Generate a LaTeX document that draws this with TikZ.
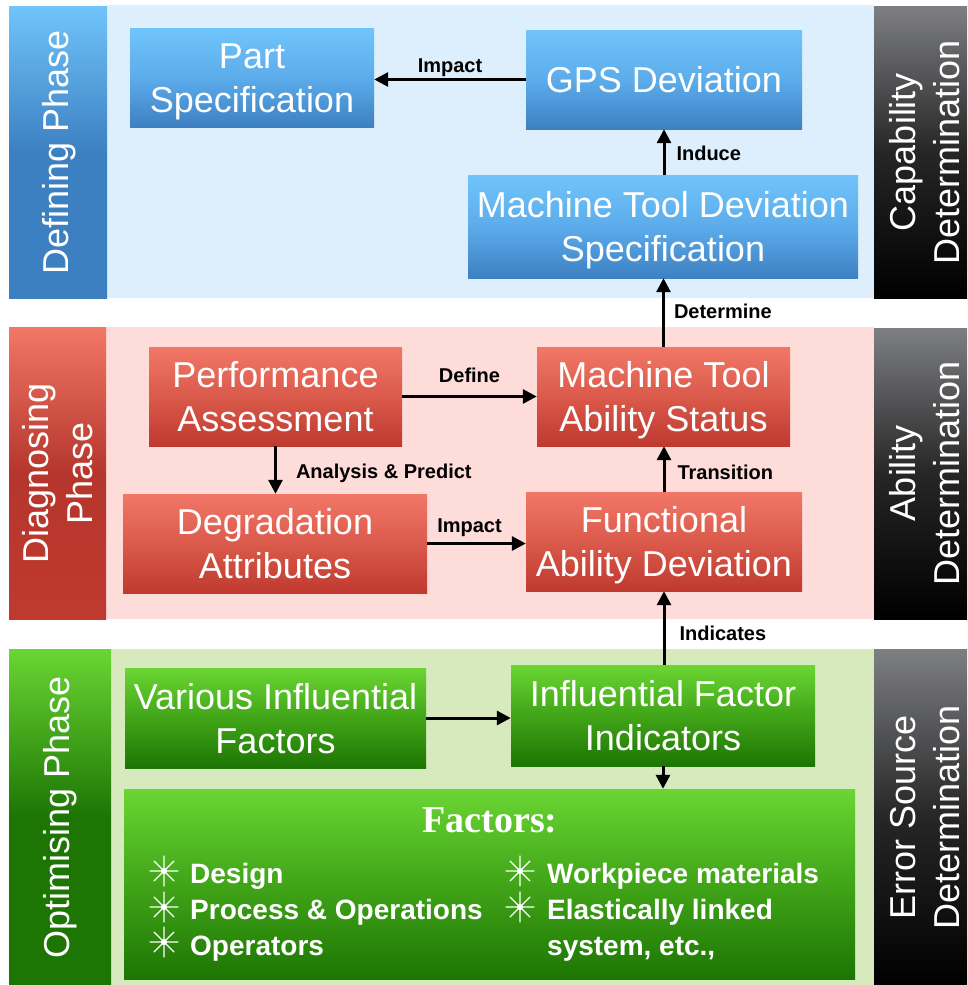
\documentclass[tikz,border=0pt]{standalone}
\usepackage{fontspec}
\setmainfont{Liberation Sans}
\newfontfamily\headserif{Liberation Serif}
\usetikzlibrary{arrows.meta}
\definecolor{bluetop}{HTML}{70C4FB}
\definecolor{bluemid}{HTML}{5CACEB}
\definecolor{bluebot}{HTML}{3D80C2}
\definecolor{bluebg}{HTML}{DDEFFD}
\definecolor{redtop}{HTML}{F27767}
\definecolor{redmid}{HTML}{DA5A4B}
\definecolor{redbot}{HTML}{BF392F}
\definecolor{redbg}{HTML}{FDDCD9}
\definecolor{greentop}{HTML}{6AD633}
\definecolor{greenmid}{HTML}{41A518}
\definecolor{greenbot}{HTML}{1D7504}
\definecolor{greenbg}{HTML}{D6EABD}
\definecolor{darktop}{HTML}{7E7F82}
\definecolor{darkmid}{HTML}{262626}
\newcommand\lineA{\rule{0pt}{34pt}}
\newcommand\lineB{\rule[-8pt]{0pt}{8pt}}
\tikzset{
  x=1pt, y=-1pt,
  box/.style={inner sep=0pt, text=white, align=center,
    font=\fontsize{36}{44}\selectfont},
  bluebox/.style={box, top color=bluetop, bottom color=bluebot, middle color=bluemid},
  redbox/.style={box, top color=redtop, bottom color=redbot, middle color=redmid},
  greenbox/.style={box, top color=greentop, bottom color=greenbot, middle color=greenmid},
  sidetxt/.style={rotate=90, text=white, align=center, inner sep=0pt,
    font=\fontsize{36}{44}\selectfont},
  arr/.style={line width=3pt, -{Triangle[length=14pt,width=14pt]}},
  lab/.style={font=\bfseries\fontsize{20}{24}\selectfont, inner sep=0pt},
  item/.style={anchor=base west, text=white, inner sep=0pt,
    font=\bfseries\fontsize{28}{33}\selectfont},
  spark/.pic={
    \draw[white, line width=1.1pt, line cap=round]
      (-14,0) -- (14,0) (0,-15) -- (0,15) (-10,-10) -- (10,10) (-10,10) -- (10,-10);
    \fill[white] (0,0) circle (3);
  }
}
\begin{document}
\begin{tikzpicture}
\useasboundingbox (0,0) rectangle (967,985);
\fill[white] (0,0) rectangle (967,985);
% ---- band backgrounds
\fill[bluebg] (107,5) rectangle (874,298);
\fill[redbg] (106,327) rectangle (874,619);
\fill[greenbg] (111,649) rectangle (874,985);
% ---- left strips
\shade[top color=bluetop, bottom color=bluebot, middle color=bluebot] (9,6) rectangle (107,298);
\shade[top color=redtop, bottom color=redbot, middle color=redbot!95!black] (9,327) rectangle (106,619);
\shade[top color=greentop, bottom color=greenbot, middle color=greenbot] (9,649) rectangle (111,985);
% ---- right dark boxes
\shade[top color=darktop, bottom color=black, middle color=darkmid] (874,6) rectangle (967,298);
\shade[top color=darktop, bottom color=black, middle color=darkmid] (874,328) rectangle (967,619);
\shade[top color=darktop, bottom color=black, middle color=darkmid] (874,649) rectangle (967,985);
% ---- strip texts
\node[sidetxt] (tA) at (59,152) {Defining Phase};
\node[sidetxt] (tB) at (58,473) {Diagnosing\\Phase};
\node[sidetxt] (tC) at (60,817) {Optimising Phase};
\node[sidetxt] (rA) at (925,152) {Capability\\Determination};
\node[sidetxt] (rB) at (925,473) {Ability\\Determination};
\node[sidetxt] (rC) at (925,817) {Error Source\\Determination};
% ---- boxes
\node[bluebox, minimum width=244, minimum height=99] (part) at (252,77.5) {\lineA Part\\Specification\lineB};
\node[bluebox, minimum width=276, minimum height=99] (gps) at (664,79.5) {GPS Deviation};
\node[bluebox, minimum width=390, minimum height=103] (mtds) at (663,226.5) {\lineA Machine Tool Deviation\\Specification\lineB};
\node[redbox, minimum width=253, minimum height=99] (pa) at (275.5,396.5) {\lineA Performance\\Assessment\lineB};
\node[redbox, minimum width=304, minimum height=99] (da) at (275,543.5) {\lineA Degradation\\Attributes\lineB};
\node[redbox, minimum width=253, minimum height=99] (mtas) at (663.5,396.5) {\lineA Machine Tool\\Ability Status\lineB};
\node[redbox, minimum width=276, minimum height=99] (fad) at (664,541.5) {\lineA Functional\\Ability Deviation\lineB};
\node[greenbox, minimum width=301, minimum height=100] (vif) at (275.5,718) {\lineA Various Influential\\Factors\lineB};
\node[greenbox, minimum width=304, minimum height=101] (ifi) at (663,715.5) {\lineA Influential Factor\\Indicators\lineB};
\node[greenbox, minimum width=731, minimum height=190] (fac) at (489.5,884) {};
% ---- factors content
\node[anchor=base, text=white, inner sep=0pt, font=\headserif\bfseries\fontsize{38}{44}\selectfont] (fh) at (490,832) {Factors:};
\pic at (164,871) {spark};
\pic at (164,907) {spark};
\pic at (164,942) {spark};
\pic at (520,871) {spark};
\pic at (520,907) {spark};
\node[item] (i1) at (190,883) {Design};
\node[item] (i2) at (190,919) {Process \& Operations};
\node[item] (i3) at (190,955) {Operators};
\node[item] (i4) at (547,883) {Workpiece materials};
\node[item] (i5) at (547,919) {Elastically linked};
\node[item] (i6) at (547,955) {system, etc.,};
% ---- connectors
\draw[arr] (gps.west) -- (gps.west -| part.east)
  node[lab, midway, anchor=base, yshift=7pt] {Impact};
\draw[arr] (mtds.north -| gps.south) -- (gps.south)
  node[lab, midway, anchor=base west, xshift=11pt, yshift=-8pt] {Induce};
\draw[arr] (mtas.north) -- (mtas.north |- mtds.south)
  node[lab, midway, anchor=base west, xshift=9pt, yshift=-6pt] {Determine};
\draw[arr] (pa.east) -- (pa.east -| mtas.west)
  node[lab, midway, anchor=base, yshift=14pt] {Define};
\draw[arr] (pa.south) -- (pa.south |- da.north)
  node[lab, midway, anchor=base west, xshift=19pt, yshift=-8pt] {Analysis \& Predict};
\draw[arr] (da.east) -- (da.east -| fad.west)
  node[lab, midway, anchor=base, xshift=-7pt, yshift=11pt] {Impact};
\draw[arr] (fad.north) -- (fad.north |- mtas.south)
  node[lab, midway, anchor=base west, xshift=12pt, yshift=-10pt] {Transition};
\draw[arr] (ifi.north -| fad.south) -- (fad.south)
  node[lab, midway, anchor=base west, xshift=14pt, yshift=-12pt] {Indicates};
\draw[arr] (vif.east) -- (vif.east -| ifi.west);
\draw[arr] (ifi.south) -- (ifi.south |- fac.north);
\end{tikzpicture}
\end{document}
